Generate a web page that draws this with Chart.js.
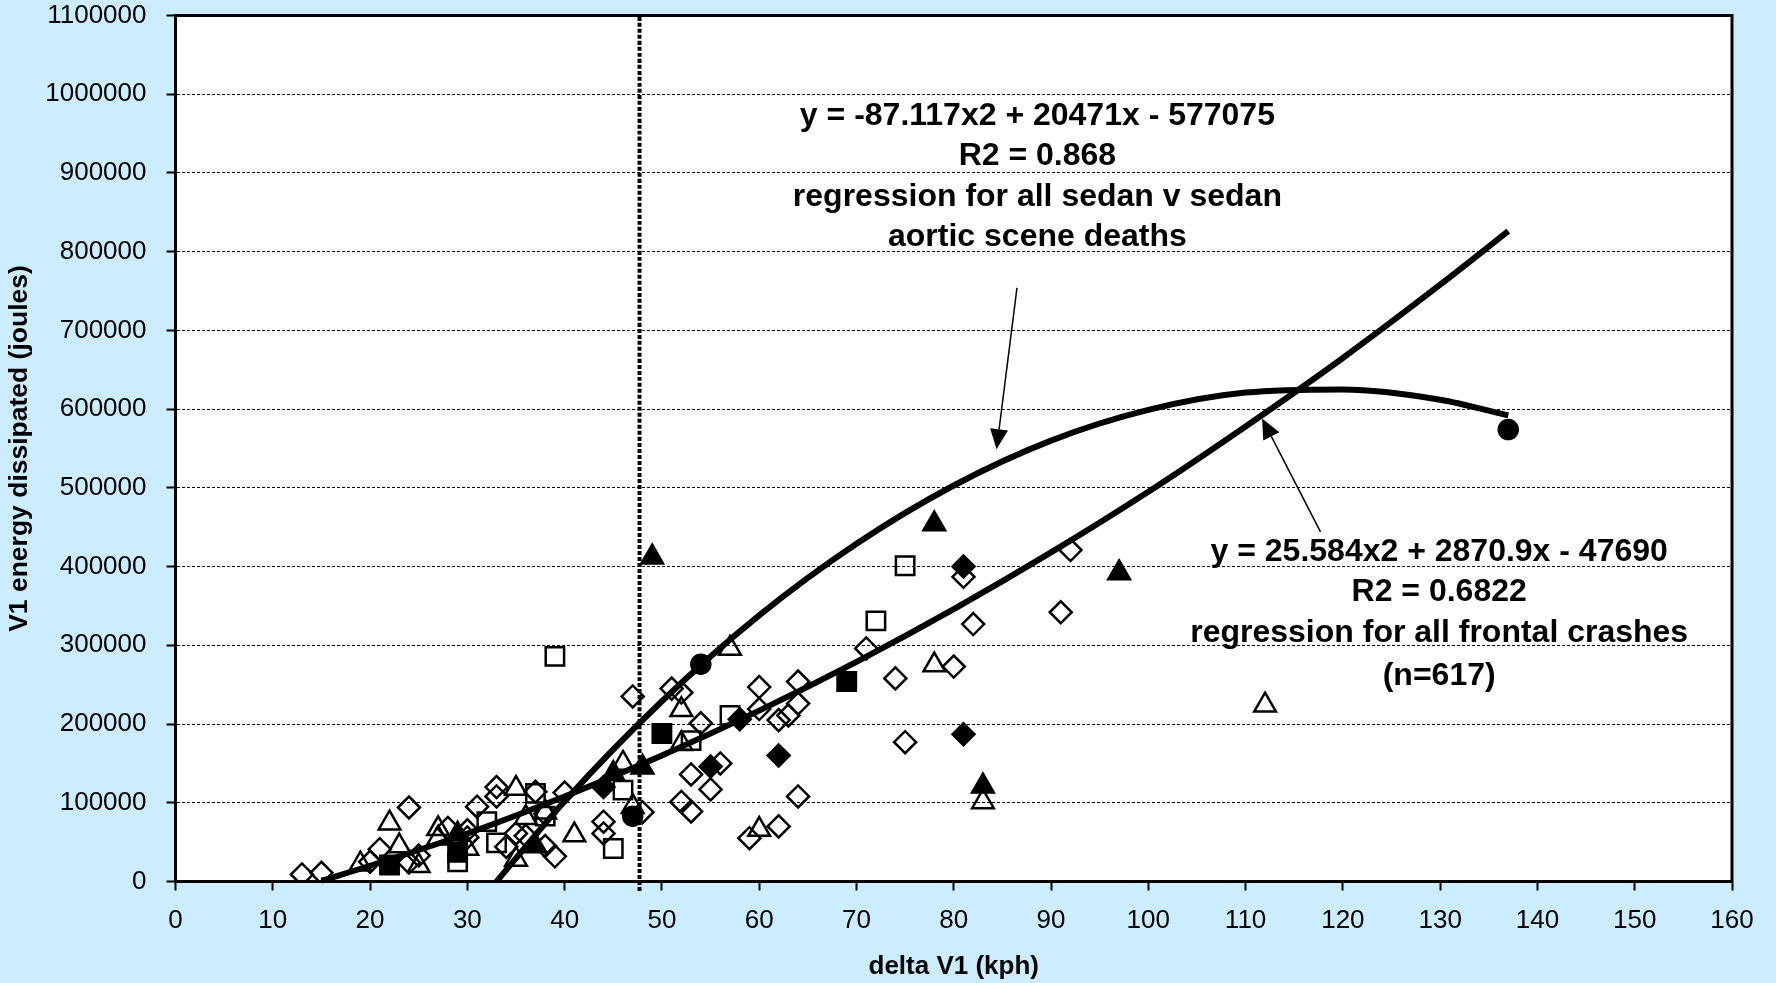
<!DOCTYPE html>
<html>
<head>
<meta charset="utf-8">
<script src="https://cdn.jsdelivr.net/npm/chart.js@4.4.1/dist/chart.umd.min.js"></script>
<style>
  html, body { margin: 0; padding: 0; background: #CCECFF; }
  canvas { display: block; }
</style>
</head>
<body>
<canvas id="chart" width="1776" height="983"></canvas>
<script>

// scatter data (delta V1 kph, joules)
var openDiamondX = [13, 15, 20, 21, 24, 24, 25, 28, 30, 30, 31, 33, 33, 34, 35, 36, 37, 38, 38, 39, 40, 44, 44, 47, 48, 51, 52, 52, 53, 53, 54, 55, 56, 59, 60, 60, 62, 62, 63, 64, 64, 64, 71, 74, 75, 80, 81, 82, 91, 92];
var openDiamondY = [9000, 11000, 25000, 41000, 94000, 24000, 33000, 68000, 65000, 56000, 95000, 120000, 108000, 44000, 61000, 58000, 114000, 86000, 45000, 32000, 113000, 76000, 61000, 235000, 88000, 245000, 240000, 101000, 136000, 89000, 201000, 117000, 150000, 55000, 247000, 219000, 205000, 70000, 211000, 254000, 226000, 108000, 296000, 258000, 177000, 273000, 387000, 327000, 342000, 421000];

var openTriangleX = [19, 22, 23, 25, 27, 27, 30, 35, 35, 36, 38, 41, 46, 47, 52, 52, 57, 60, 78, 83, 112];
var openTriangleY = [22000, 74000, 45000, 20000, 67000, 55000, 42000, 118000, 28000, 81000, 88000, 59000, 150000, 95000, 218000, 175000, 296000, 66000, 275000, 101000, 224000];

var openSquareX = [29, 32, 33, 37, 38, 39, 45, 46, 53, 57, 72, 75];
var openSquareY = [25000, 76000, 49000, 112000, 83000, 286000, 42000, 116000, 179000, 211000, 331000, 401000];

var fullSquareX = [22, 29, 50, 69];
var fullSquareY = [21000, 37000, 188000, 254000];

var fullDiamondX = [44, 55, 58, 62, 81, 81];
var fullDiamondY = [120000, 146000, 206000, 160000, 400000, 187000];

var fullTriangleX = [29, 37, 45, 48, 49, 78, 83, 97];
var fullTriangleY = [60000, 45000, 137000, 145000, 412000, 454000, 121000, 392000];

var fullCircleX = [47, 54, 137];
var fullCircleY = [83000, 276000, 574000];

// regression curves as drawn
var aorticX = [33, 40, 50, 60, 70, 80, 90, 100, 110, 120, 130, 137];
var aorticY = [0, 102000, 229000, 338000, 429000, 503000, 560000, 599000, 621000, 625000, 612000, 592000];
var frontalX = [15, 20, 30, 40, 50, 60, 70, 80, 90, 100, 110, 120, 130, 137];
var frontalY = [1000, 20000, 61000, 108000, 160000, 217000, 279000, 346000, 418000, 495000, 578000, 665000, 758000, 826000];

// vertical dotted marker
var markX = [47.7, 47.7];
var markY = [-12000, 1100000];

var label1 = ['y = -87.117x2 + 20471x - 577075', 'R2 = 0.868', 'regression for all sedan v sedan', 'aortic scene deaths'];
var label2 = ['y = 25.584x2 + 2870.9x - 47690', 'R2 = 0.6822', 'regression for all frontal crashes', '(n=617)'];


function pts(xs, ys) {
  return xs.map(function (x, i) { return {x: x, y: ys[i]}; });
}

function marker(data, style, r, filled) {
  return {
    data: data,
    pointStyle: style,
    pointRadius: r,
    pointHoverRadius: r,
    pointBorderWidth: 2.5,
    pointBorderColor: '#000',
    pointBackgroundColor: filled ? '#000' : 'rgba(0,0,0,0)',
    order: 2
  };
}

function curve(data, width, dash) {
  return {
    data: data,
    showLine: true,
    pointRadius: 0,
    borderColor: '#000',
    borderWidth: width,
    borderDash: dash || [],
    cubicInterpolationMode: 'monotone',
    fill: false,
    clip: false,
    order: 0
  };
}

// where the text blocks and arrows sit, in data units
var notes = [
  {lines: label1, x: 88.6, y: [972000, 921000, 869000, 818000]},
  {lines: label2, x: 129.9, y: [418000, 368000, 315000, 261000]}
];
var arrows = [
  {from: [86.5, 754000], to: [84.4, 549000]},
  {from: [117.7, 444000], to: [111.7, 588000]}
];

var extras = {
  id: 'extras',
  beforeDraw: function (chart) {
    var a = chart.chartArea, c = chart.ctx;
    c.save();
    c.fillStyle = '#fff';
    c.fillRect(a.left, a.top, a.right - a.left, a.bottom - a.top);
    c.restore();
  },
  afterDraw: function (chart) {
    var a = chart.chartArea, c = chart.ctx;
    var sx = chart.scales.x, sy = chart.scales.y;
    c.save();
    c.strokeStyle = '#000';
    c.lineWidth = 3;
    c.strokeRect(a.left, a.top, a.right - a.left, a.bottom - a.top);

    c.fillStyle = '#000';
    c.font = 'bold 32px "Liberation Sans", Arial, sans-serif';
    c.textAlign = 'center';
    c.textBaseline = 'middle';
    notes.forEach(function (n) {
      n.lines.forEach(function (t, i) {
        c.fillText(t, sx.getPixelForValue(n.x), sy.getPixelForValue(n.y[i]));
      });
    });

    arrows.forEach(function (ar) {
      var x1 = sx.getPixelForValue(ar.from[0]), y1 = sy.getPixelForValue(ar.from[1]);
      var x2 = sx.getPixelForValue(ar.to[0]), y2 = sy.getPixelForValue(ar.to[1]);
      var ang = Math.atan2(y2 - y1, x2 - x1);
      var len = 20, half = 9;
      var bx = x2 - Math.cos(ang) * len, by = y2 - Math.sin(ang) * len;
      c.lineWidth = 1.5;
      c.beginPath();
      c.moveTo(x1, y1);
      c.lineTo(bx, by);
      c.stroke();
      c.beginPath();
      c.moveTo(x2, y2);
      c.lineTo(bx + Math.sin(ang) * half, by - Math.cos(ang) * half);
      c.lineTo(bx - Math.sin(ang) * half, by + Math.cos(ang) * half);
      c.closePath();
      c.fill();
    });
    c.restore();
  }
};

var chart = new Chart('chart', {
  type: 'scatter',
  data: {
    datasets: [
      curve(pts(aorticX, aorticY), 6),
      curve(pts(frontalX, frontalY), 6),
      curve(pts(markX, markY), 4, [4, 2]),
      marker(pts(openDiamondX, openDiamondY), 'rectRot', 11, false),
      marker(pts(openTriangleX, openTriangleY), 'triangle', 12.5, false),
      marker(pts(openSquareX, openSquareY), 'rect', 13, false),
      marker(pts(fullSquareX, fullSquareY), 'rect', 13, true),
      marker(pts(fullDiamondX, fullDiamondY), 'rectRot', 11, true),
      marker(pts(fullTriangleX, fullTriangleY), 'triangle', 12.5, true),
      marker(pts(fullCircleX, fullCircleY), 'circle', 9.5, true)
    ]
  },
  options: {
    responsive: false,
    animation: false,
    layout: {padding: {top: 13, right: 44, bottom: 0, left: 4}},
    plugins: {legend: {display: false}, tooltip: {enabled: false}},
    scales: {
      x: {
        type: 'linear',
        min: 0,
        max: 160,
        ticks: {stepSize: 10, color: '#000', padding: 15, font: {family: '"Liberation Sans", Arial, sans-serif', size: 26}},
        grid: {drawOnChartArea: false, tickLength: 9, tickColor: '#000', tickWidth: 2},
        border: {color: '#000', width: 3},
        title: {display: true, text: 'delta V1 (kph)', color: '#000', padding: {top: 0, bottom: 1},
          font: {family: '"Liberation Sans", Arial, sans-serif', size: 26, weight: 'bold'}},
        afterFit: function (s) { s.height = 101.5; s.paddingLeft = 0; s.paddingRight = 0; }
      },
      y: {
        min: 0,
        max: 1100000,
        ticks: {stepSize: 100000, color: '#000', padding: 20,
          font: {family: '"Liberation Sans", Arial, sans-serif', size: 26, lineHeight: 1},
          callback: function (v) { return String(v); }},
        grid: {color: '#000', lineWidth: 1, tickLength: 9, tickColor: '#000', tickWidth: 2, tickBorderDash: []},
        border: {color: '#000', width: 3, dash: [3, 2]},
        title: {display: true, text: 'V1 energy dissipated (joules)', color: '#000', padding: {top: 0, bottom: 0},
          font: {family: '"Liberation Sans", Arial, sans-serif', size: 26.5, weight: 'bold'}},
        afterFit: function (s) { s.width = 171.5; s.paddingTop = 0; s.paddingBottom = 0; }
      }
    }
  },
  plugins: [extras]
});
</script>
</body>
</html>
